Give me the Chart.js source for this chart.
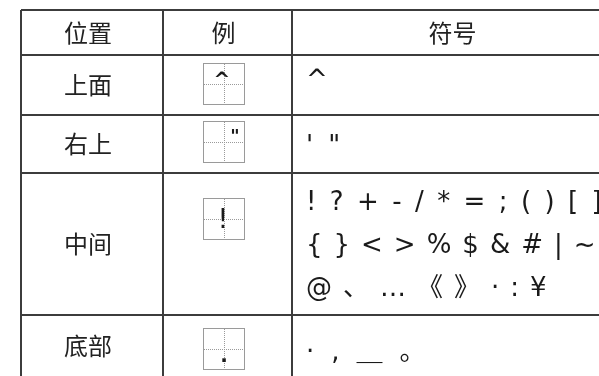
<!DOCTYPE html>
<html>
<head>
<meta charset="utf-8">
<script src="https://cdn.jsdelivr.net/npm/chart.js@4/dist/chart.umd.min.js"></script>
<style>
html, body { margin: 0; padding: 0; background: #fff; }
#wrap { width: 599px; height: 376px; }
</style>
</head>
<body>
<div id="wrap"><canvas id="symbol_table"></canvas></div>
<script>
// table content
const header_labels = ["位置", "例", "符号"]
const position_labels = ["上面", "右上", "中间", "底部"]
const example_glyphs = ["^", "\"", "!", "."]
const symbol_lines = [
    ["^"],
    ["' \""],
    ["! ? + - / * = ; ( ) [ ]", "{ } < > % $ & # | ~", "@ 、 … 《 》 · : ¥"],
    ["· , ＿ 。"]
]

// table grid in px units (chart area starts at 21,10)
const column_edges = [0, 142, 271, 600]
const row_edges = [0, 45, 105, 163, 305, 366]

// per-row placement of the example box and symbol lines
const box_offsets = [29, 27, 46, 34]
const symbol_baselines = [[33], [39], [37, 80, 123], [45]]
const symbol_gaps = [[11], [15], [13.4, 11, 11], [17]]
const glyph_styles = [
    { "font": "bold 20px 'DejaVu Sans'", "dx": -2, "dy": 2 },
    { "font": "bold 18px 'DejaVu Sans'", "dx": 11, "dy": 0 },
    { "font": "27px 'DejaVu Sans'", "dx": -1, "dy": 9 },
    { "font": "bold 20px 'DejaVu Sans'", "dx": 0, "dy": 13 }
]

const cjk_font = "24px 'Noto Sans CJK SC'"
const symbol_font = "26px 'DejaVu Sans', 'Noto Sans CJK SC'"

function cellCenter(scale, edges, index) {
    return scale.getPixelForValue((edges[index] + edges[index + 1]) / 2)
}

function drawExampleBox(ctx, cx, cy, glyph, style) {
    ctx.save()
    ctx.strokeStyle = "#9a9a9a"
    ctx.lineWidth = 1
    ctx.strokeRect(cx - 20.5, cy - 20.5, 41, 41)
    ctx.setLineDash([1, 1])
    ctx.beginPath()
    ctx.moveTo(cx + 0.5, cy - 20)
    ctx.lineTo(cx + 0.5, cy + 20)
    ctx.moveTo(cx - 20, cy + 0.5)
    ctx.lineTo(cx + 20, cy + 0.5)
    ctx.stroke()
    ctx.setLineDash([])
    ctx.fillStyle = "#1a1a1a"
    ctx.font = style.font
    ctx.textAlign = "center"
    ctx.textBaseline = "alphabetic"
    ctx.fillText(glyph, cx + style.dx, cy + style.dy)
    ctx.restore()
}

function drawSymbolLine(ctx, text, x, y, gap) {
    let pos = x
    text.split(" ").forEach(token => {
        ctx.fillText(token, pos, y)
        pos += ctx.measureText(token).width + gap
    })
}

const table_text = {
    "id": "table_text",
    afterDraw(chart) {
        const ctx = chart.ctx
        const xs = chart.scales.x
        const ys = chart.scales.y
        ctx.save()
        ctx.fillStyle = "#222"
        ctx.font = cjk_font
        ctx.textAlign = "center"
        ctx.textBaseline = "middle"

        // header row
        header_labels.forEach((label, i) => {
            ctx.fillText(label, cellCenter(xs, column_edges, i) - 4, cellCenter(ys, row_edges, 0))
        })

        // position labels
        position_labels.forEach((label, i) => {
            ctx.fillText(label, cellCenter(xs, column_edges, 0) - 4, cellCenter(ys, row_edges, i + 1))
        })

        // example boxes
        example_glyphs.forEach((glyph, i) => {
            const cx = Math.round(cellCenter(xs, column_edges, 1) - 4)
            const cy = Math.round(ys.getPixelForValue(row_edges[i + 1]) + box_offsets[i])
            drawExampleBox(ctx, cx, cy, glyph, glyph_styles[i])
        })

        // symbols
        ctx.font = symbol_font
        ctx.textAlign = "left"
        ctx.textBaseline = "alphabetic"
        ctx.fillStyle = "#1a1a1a"
        const left = xs.getPixelForValue(column_edges[2]) + 14
        symbol_lines.forEach((lines, i) => {
            const top = ys.getPixelForValue(row_edges[i + 1])
            lines.forEach((text, j) => {
                drawSymbolLine(ctx, text, left, top + symbol_baselines[i][j], symbol_gaps[i][j])
            })
        })
        ctx.restore()
    }
}

function gridScale(edges, max, is_y) {
    return {
        "type": "linear",
        "min": 0,
        "max": max,
        "reverse": is_y,
        "ticks": { "display": false },
        "border": { "display": false },
        "grid": { "color": "#3c3c3c", "lineWidth": 2, "drawTicks": false },
        afterBuildTicks(scale) {
            scale.ticks = edges.slice(0, edges.length - 1).map(v => ({ "value": v }))
        },
        afterFit(scale) {
            if (is_y) scale.width = 0
            else scale.height = 0
        }
    }
}

new Chart(document.getElementById("symbol_table").getContext("2d"), {
    "type": "scatter",
    "data": { "datasets": [{ "data": [] }] },
    "options": {
        "responsive": true,
        "maintainAspectRatio": false,
        "animation": false,
        "layout": { "padding": { "left": 21, "top": 10, "right": 0, "bottom": 0 } },
        "plugins": { "legend": { "display": false }, "tooltip": { "enabled": false } },
        "scales": {
            "x": gridScale(column_edges, 578, false),
            "y": gridScale(row_edges, 366, true)
        }
    },
    "plugins": [table_text]
})
</script>
</body>
</html>
